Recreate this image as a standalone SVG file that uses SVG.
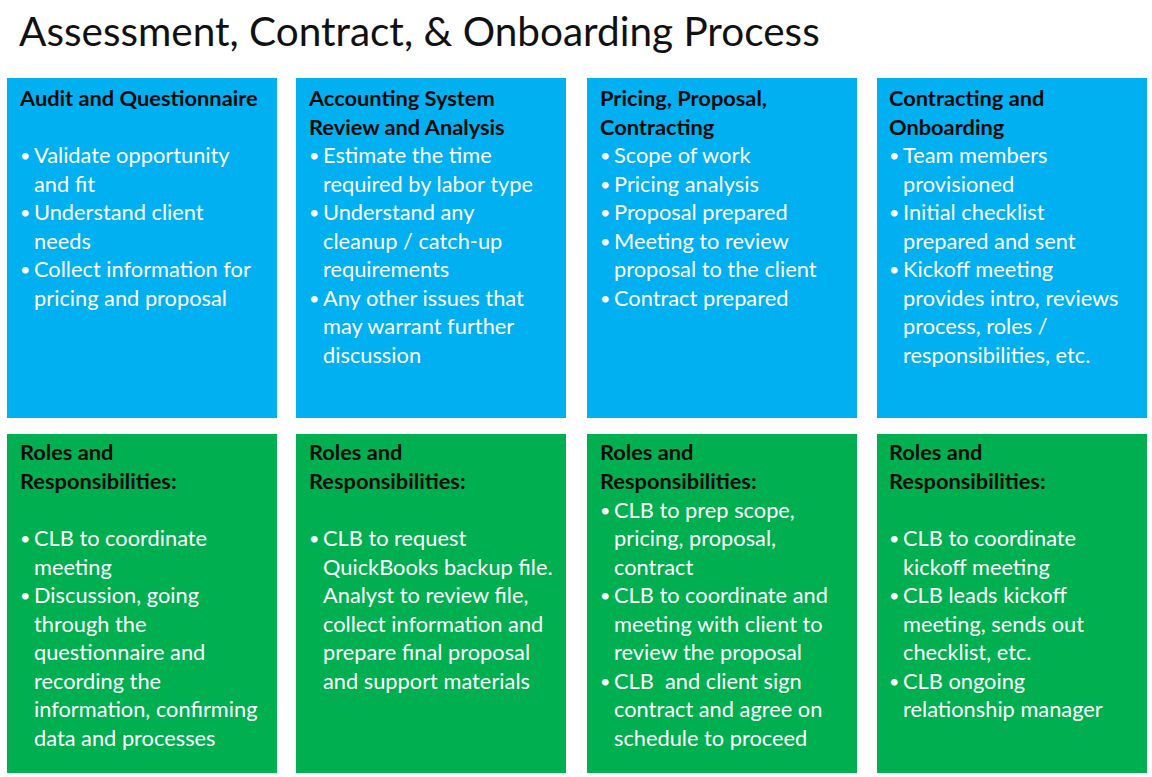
<svg xmlns="http://www.w3.org/2000/svg" width="1152" height="777" viewBox="0 0 1152 777">
<style>
.title{font-family:"Lato","Liberation Sans",sans-serif;font-size:40.5px;fill:#111}
.blue{fill:#00B0F0}
.green{fill:#00B050}
.h{font-family:"Lato","Liberation Sans",sans-serif;font-size:21.8px;font-weight:bold;fill:#0a0a0a}
.t{font-family:"Lato","Liberation Sans",sans-serif;font-size:21.8px;fill:#fff}
.b{font-family:"Lato","Liberation Sans",sans-serif;font-size:18px;fill:#fff}
</style>
<rect width="1152" height="777" fill="#fff"/>
<text class="title" x="19" y="46">Assessment, Contract, &amp; Onboarding Process</text>

<g id="audit">
<rect class="blue" x="7" y="78" width="270" height="340"/>
<text class="h" x="20" y="106">Audit and Questionnaire</text>
<text class="b" x="20" y="162">•</text><text class="t" x="34" y="163">Validate opportunity</text>
<text class="t" x="34" y="191.5">and fit</text>
<text class="b" x="20" y="219">•</text><text class="t" x="34" y="220">Understand client</text>
<text class="t" x="34" y="248.5">needs</text>
<text class="b" x="20" y="276">•</text><text class="t" x="34" y="277">Collect information for</text>
<text class="t" x="34" y="305.5">pricing and proposal</text>
</g>

<g id="accounting">
<rect class="blue" x="296" y="78" width="270" height="340"/>
<text class="h" x="309" y="106">Accounting System</text>
<text class="h" x="309" y="134.5">Review and Analysis</text>
<text class="b" x="309" y="162">•</text><text class="t" x="323" y="163">Estimate the time</text>
<text class="t" x="323" y="191.5">required by labor type</text>
<text class="b" x="309" y="219">•</text><text class="t" x="323" y="220">Understand any</text>
<text class="t" x="323" y="248.5">cleanup / catch-up</text>
<text class="t" x="323" y="277">requirements</text>
<text class="b" x="309" y="304.5">•</text><text class="t" x="323" y="305.5">Any other issues that</text>
<text class="t" x="323" y="334">may warrant further</text>
<text class="t" x="323" y="362.5">discussion</text>
</g>

<g id="pricing">
<rect class="blue" x="587" y="78" width="270" height="340"/>
<text class="h" x="600" y="106">Pricing, Proposal,</text>
<text class="h" x="600" y="134.5">Contracting</text>
<text class="b" x="600" y="162">•</text><text class="t" x="614" y="163">Scope of work</text>
<text class="b" x="600" y="190.5">•</text><text class="t" x="614" y="191.5">Pricing analysis</text>
<text class="b" x="600" y="219">•</text><text class="t" x="614" y="220">Proposal prepared</text>
<text class="b" x="600" y="247.5">•</text><text class="t" x="614" y="248.5">Meeting to review</text>
<text class="t" x="614" y="277">proposal to the client</text>
<text class="b" x="600" y="304.5">•</text><text class="t" x="614" y="305.5">Contract prepared</text>
</g>

<g id="contracting">
<rect class="blue" x="877" y="78" width="270" height="340"/>
<text class="h" x="889" y="106">Contracting and</text>
<text class="h" x="889" y="134.5">Onboarding</text>
<text class="b" x="889" y="162">•</text><text class="t" x="903" y="163">Team members</text>
<text class="t" x="903" y="191.5">provisioned</text>
<text class="b" x="889" y="219">•</text><text class="t" x="903" y="220">Initial checklist</text>
<text class="t" x="903" y="248.5">prepared and sent</text>
<text class="b" x="889" y="276">•</text><text class="t" x="903" y="277">Kickoff meeting</text>
<text class="t" x="903" y="305.5">provides intro, reviews</text>
<text class="t" x="903" y="334">process, roles /</text>
<text class="t" x="903" y="362.5">responsibilities, etc.</text>
</g>

<g id="roles1">
<rect class="green" x="7" y="434" width="270" height="339"/>
<text class="h" x="20" y="460">Roles and</text>
<text class="h" x="20" y="488.5">Responsibilities:</text>
<text class="b" x="20" y="545">•</text><text class="t" x="34" y="546">CLB to coordinate</text>
<text class="t" x="34" y="574.5">meeting</text>
<text class="b" x="20" y="602">•</text><text class="t" x="34" y="603">Discussion, going</text>
<text class="t" x="34" y="631.5">through the</text>
<text class="t" x="34" y="660">questionnaire and</text>
<text class="t" x="34" y="688.5">recording the</text>
<text class="t" x="34" y="717">information, confirming</text>
<text class="t" x="34" y="745.5">data and processes</text>
</g>

<g id="roles2">
<rect class="green" x="296" y="434" width="270" height="339"/>
<text class="h" x="309" y="460">Roles and</text>
<text class="h" x="309" y="488.5">Responsibilities:</text>
<text class="b" x="309" y="545">•</text><text class="t" x="323" y="546">CLB to request</text>
<text class="t" x="323" y="574.5">QuickBooks backup file.</text>
<text class="t" x="323" y="603">Analyst to review file,</text>
<text class="t" x="323" y="631.5">collect information and</text>
<text class="t" x="323" y="660">prepare final proposal</text>
<text class="t" x="323" y="688.5">and support materials</text>
</g>

<g id="roles3">
<rect class="green" x="587" y="434" width="270" height="339"/>
<text class="h" x="600" y="460">Roles and</text>
<text class="h" x="600" y="488.5">Responsibilities:</text>
<text class="b" x="600" y="516.5">•</text><text class="t" x="614" y="517.5">CLB to prep scope,</text>
<text class="t" x="614" y="546">pricing, proposal,</text>
<text class="t" x="614" y="574.5">contract</text>
<text class="b" x="600" y="602">•</text><text class="t" x="614" y="603">CLB to coordinate and</text>
<text class="t" x="614" y="631.5">meeting with client to</text>
<text class="t" x="614" y="660">review the proposal</text>
<text class="b" x="600" y="687.5">•</text><text class="t" x="614" y="688.5" xml:space="preserve">CLB  and client sign</text>
<text class="t" x="614" y="717">contract and agree on</text>
<text class="t" x="614" y="745.5">schedule to proceed</text>
</g>

<g id="roles4">
<rect class="green" x="877" y="434" width="270" height="339"/>
<text class="h" x="889" y="460">Roles and</text>
<text class="h" x="889" y="488.5">Responsibilities:</text>
<text class="b" x="889" y="545">•</text><text class="t" x="903" y="546">CLB to coordinate</text>
<text class="t" x="903" y="574.5">kickoff meeting</text>
<text class="b" x="889" y="602">•</text><text class="t" x="903" y="603">CLB leads kickoff</text>
<text class="t" x="903" y="631.5">meeting, sends out</text>
<text class="t" x="903" y="660">checklist, etc.</text>
<text class="b" x="889" y="687.5">•</text><text class="t" x="903" y="688.5">CLB ongoing</text>
<text class="t" x="903" y="717">relationship manager</text>
</g>
</svg>
